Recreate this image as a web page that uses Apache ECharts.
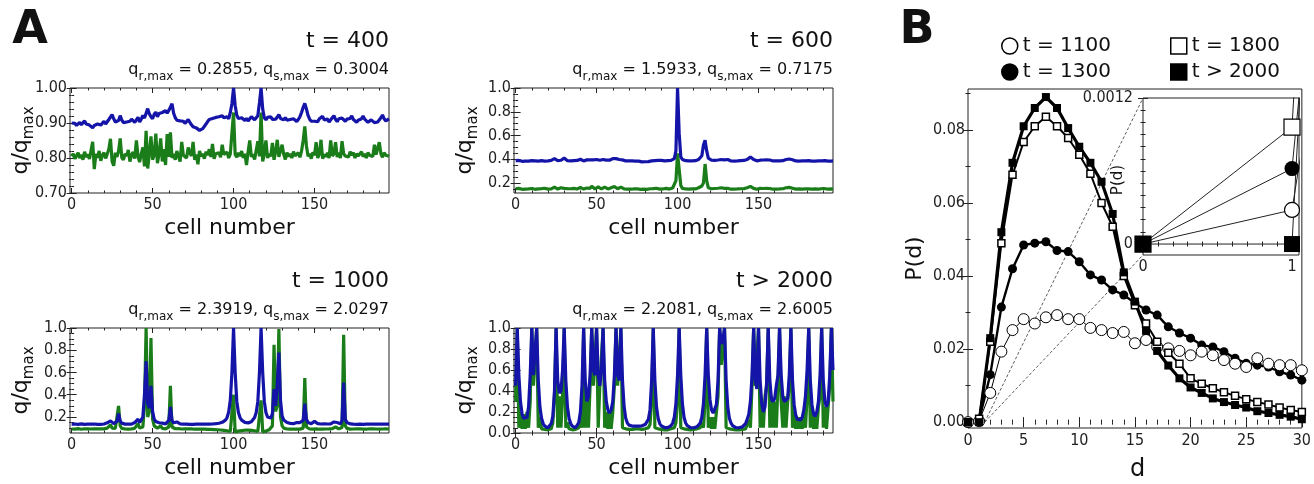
<!DOCTYPE html>
<html>
<head>
<meta charset="utf-8">
<script src="https://cdn.jsdelivr.net/npm/echarts@6/dist/echarts.min.js"></script>
<style>
html, body { margin: 0; padding: 0; background: #fff; }
#chart { width: 1314px; height: 484px; }
</style>
</head>
<body>
<div id="chart"></div>
<script>
var FONT = 'DejaVu Sans';
var TICKFONT = "'Liberation Sans Narrow', 'DejaVu Sans Condensed', 'Liberation Sans', sans-serif";
var INK = '#111';
var BLUE = '#1414a8';
var GREEN = '#1a7d1a';

// ---- panel A ----
var panelTitles = ['t = 400', 't = 600', 't = 1000', 't > 2000'];
var qrMax = ['0.2855', '1.5933', '2.3919', '2.2081'];
var qsMax = ['0.3004', '0.7175', '2.0297', '2.6005'];
var cellTicks = [0, 50, 100, 150];

// q/qmax for each cell (index = cell number)
var q400r = [
  .900,.896,.899,.893,.897,.902,.895,.899,.906,.897,
  .901,.894,.899,.886,.893,.889,.897,.902,.894,.899,
  .905,.897,.901,.910,.906,.924,.912,.903,.899,.907,
  .921,.908,.901,.897,.903,.899,.905,.911,.906,.902,
  .909,.916,.903,.911,.922,.914,.928,.941,.926,.918,
  .912,.925,.931,.918,.927,.922,.930,.926,.935,.928,
  .936,.945,.955,.928,.915,.908,.903,.906,.901,.905,
  .899,.904,.910,.902,.895,.889,.893,.886,.882,.879,
  .876,.884,.889,.897,.904,.910,.907,.913,.909,.916,
  .911,.918,.913,.921,.915,.910,.918,.912,.930,.955,
  1.000,.950,.922,.913,.908,.915,.911,.907,.913,.906,
  .912,.918,.915,.909,.913,.921,.958,1.000,.940,.915,
  .909,.916,.912,.918,.910,.914,.911,.917,.924,.913,
  .913,.909,.915,.908,.913,.910,.906,.912,.908,.904,
  .910,.918,.930,.945,.956,.940,.922,.911,.905,.910,
  .905,.910,.904,.912,.908,.919,.909,.905,.911,.903,
  .909,.914,.921,.910,.904,.912,.907,.914,.909,.905,
  .911,.907,.913,.920,.910,.905,.902,.908,.904,.912,
  .920,.911,.906,.902,.905,.909,.904,.901,.906,.903,
  .908,.915,.923,.912,.906,.909,.912
];
var q400s = [
  .805,.812,.798,.806,.815,.800,.809,.795,.818,.803,
  .810,.797,.822,.846,.768,.812,.801,.820,.792,.808,
  .815,.799,.811,.826,.855,.790,.778,.815,.803,.820,
  .856,.801,.795,.812,.806,.823,.790,.809,.817,.798,
  .850,.805,.788,.812,.830,.776,.878,.770,.815,.862,
  .795,.808,.870,.785,.812,.856,.790,.825,.780,.868,
  .803,.873,.800,.812,.795,.820,.805,.790,.846,.808,
  .812,.800,.830,.815,.806,.846,.795,.810,.782,.820,
  .805,.812,.798,.818,.808,.825,.803,.840,.798,.812,
  .808,.815,.802,.838,.810,.805,.817,.800,.812,.808,
  .930,.810,.802,.815,.806,.820,.800,.812,.780,.818,
  .850,.803,.810,.796,.822,.848,.805,.930,.790,.812,
  .850,.800,.812,.805,.843,.795,.818,.852,.803,.808,
  .838,.810,.796,.815,.805,.812,.800,.818,.806,.810,
  .815,.802,.820,.850,.890,.835,.805,.812,.798,.816,
  .808,.845,.800,.812,.852,.798,.810,.804,.815,.800,
  .850,.806,.812,.845,.803,.815,.800,.848,.812,.806,
  .810,.803,.818,.808,.815,.800,.812,.806,.810,.818,
  .804,.812,.800,.815,.808,.812,.804,.838,.810,.806,
  .845,.812,.802,.815,.808,.812,.805
];
var q600r = [
  .388,.385,.390,.386,.383,.387,.385,.389,.384,.386,
  .388,.384,.387,.390,.385,.383,.388,.386,.384,.389,
  .386,.385,.390,.395,.405,.395,.388,.386,.392,.400,
  .410,.398,.388,.385,.387,.384,.389,.386,.390,.392,
  .400,.392,.386,.388,.395,.402,.396,.410,.395,.388,
  .398,.402,.392,.386,.398,.403,.393,.388,.392,.398,
  .405,.418,.405,.392,.398,.404,.395,.388,.386,.390,
  .387,.384,.386,.383,.385,.381,.384,.380,.378,.382,
  .379,.376,.380,.383,.386,.384,.389,.386,.390,.387,
  .391,.388,.386,.392,.389,.387,.391,.395,.405,.470,
  1.000,.620,.420,.398,.392,.388,.390,.386,.389,.387,
  .391,.388,.393,.398,.400,.430,.520,.560,.470,.410,
  .395,.392,.388,.391,.389,.394,.392,.398,.404,.395,
  .410,.398,.390,.386,.388,.385,.389,.386,.384,.388,
  .386,.390,.392,.398,.408,.420,.412,.398,.390,.387,
  .389,.392,.398,.394,.388,.395,.402,.394,.388,.386,
  .389,.386,.390,.387,.385,.388,.392,.398,.395,.402,
  .408,.396,.389,.386,.388,.385,.389,.386,.390,.387,
  .395,.388,.386,.384,.387,.385,.388,.386,.384,.387,
  .385,.388,.386,.384,.387,.385,.386
];
var q600s = [
  .152,.148,.155,.150,.147,.153,.149,.156,.151,.148,
  .154,.150,.147,.155,.151,.149,.153,.148,.156,.150,
  .149,.153,.150,.158,.165,.152,.149,.155,.160,.168,
  .155,.150,.153,.149,.152,.148,.155,.151,.150,.154,
  .162,.152,.149,.156,.158,.165,.155,.172,.158,.150,
  .162,.168,.155,.150,.158,.165,.154,.150,.156,.160,
  .162,.170,.160,.152,.158,.166,.154,.150,.152,.148,
  .151,.149,.153,.150,.148,.152,.149,.147,.150,.148,
  .151,.147,.150,.152,.149,.153,.150,.156,.152,.149,
  .153,.150,.148,.155,.151,.149,.154,.158,.170,.220,
  .450,.440,.180,.155,.152,.150,.153,.149,.152,.150,
  .154,.150,.156,.160,.162,.175,.200,.360,.220,.160,
  .155,.152,.150,.154,.151,.156,.153,.160,.165,.155,
  .168,.156,.150,.148,.152,.149,.153,.150,.148,.152,
  .150,.153,.155,.160,.165,.172,.162,.155,.150,.148,
  .152,.155,.160,.154,.150,.156,.162,.154,.150,.148,
  .151,.149,.153,.150,.148,.152,.155,.160,.158,.163,
  .168,.156,.151,.149,.152,.150,.153,.149,.151,.150,
  .155,.151,.149,.148,.152,.150,.153,.149,.150,.152,
  .149,.152,.150,.148,.151,.150,.149
];
var q1000r = [
  .136,.134,.137,.135,.133,.136,.138,.135,.134,.137,
  .135,.133,.136,.134,.137,.135,.133,.136,.134,.135,
  .137,.140,.148,.158,.165,.150,.140,.145,.160,.230,
  .165,.145,.138,.136,.135,.137,.134,.136,.140,.150,
  .158,.180,.150,.148,.200,.400,.700,.320,.280,.480,
  .250,.180,.160,.150,.148,.160,.145,.140,.138,.145,
  .170,.290,.170,.148,.145,.155,.142,.138,.136,.135,
  .134,.136,.135,.133,.136,.134,.137,.135,.133,.136,
  .134,.136,.135,.137,.134,.136,.138,.137,.139,.140,
  .142,.144,.147,.152,.160,.172,.195,.245,.350,.600,
  1.000,.600,.340,.240,.195,.172,.160,.152,.148,.147,
  .150,.157,.170,.195,.240,.340,.600,1.000,.600,.340,
  .240,.200,.185,.190,.230,.450,.300,.500,.780,.350,
  .210,.172,.158,.150,.146,.143,.141,.140,.142,.150,
  .158,.150,.145,.170,.320,.180,.150,.142,.140,.148,
  .160,.145,.140,.138,.137,.136,.138,.135,.137,.136,
  .138,.145,.155,.165,.150,.140,.138,.170,.510,.180,
  .150,.142,.138,.136,.135,.137,.134,.136,.135,.137,
  .134,.136,.135,.133,.136,.134,.137,.135,.136,.134,
  .136,.135,.137,.134,.136,.135,.136
];
var q1000s = [
  .092,.094,.091,.093,.095,.092,.090,.093,.094,.091,
  .093,.095,.092,.090,.094,.092,.093,.091,.094,.092,
  .093,.095,.100,.105,.130,.100,.095,.098,.115,.300,
  .120,.098,.094,.092,.093,.091,.094,.092,.095,.100,
  .110,.140,.100,.095,.110,.300,1.000,.200,.250,.910,
  .180,.120,.105,.098,.100,.120,.098,.094,.093,.098,
  .110,.480,.110,.096,.094,.105,.095,.093,.092,.091,
  .093,.092,.094,.091,.093,.092,.090,.093,.091,.092,
  .091,.093,.090,.092,.089,.091,.088,.089,.087,.086,
  .085,.084,.083,.082,.080,.078,.076,.073,.070,.066,
  .400,.066,.070,.073,.076,.078,.080,.081,.082,.082,
  .081,.080,.078,.076,.073,.070,.066,.350,.066,.070,
  .074,.078,.085,.100,.120,.850,.250,.300,.990,.200,
  .120,.100,.094,.092,.090,.091,.092,.090,.093,.092,
  .094,.091,.093,.100,.550,.110,.095,.092,.093,.091,
  .100,.093,.092,.090,.093,.091,.094,.092,.090,.093,
  .092,.095,.100,.110,.098,.093,.092,.105,.940,.120,
  .098,.093,.091,.094,.092,.090,.093,.091,.094,.092,
  .091,.093,.090,.092,.094,.091,.093,.090,.092,.094,
  .091,.093,.092,.090,.093,.091,.092
];
var q2000r = [
  .45,1.0,.55,.30,.18,.14,.13,.15,.25,.55,
  1.0,.55,.55,1.0,.50,.25,.14,.09,.065,.055,
  .05,.06,.09,.16,.40,1.0,.50,.38,.40,.60,
  1.0,.50,.25,.14,.09,.065,.055,.05,.065,.10,
  .20,.45,1.0,.50,.30,.35,.55,1.0,.60,.55,
  1.0,.55,.45,.60,1.0,.50,.30,.22,.19,.22,
  .30,.55,1.0,.55,.50,1.0,.50,.25,.14,.095,
  .075,.068,.066,.065,.065,.064,.065,.066,.068,.072,
  .08,.095,.13,.22,.50,1.0,.50,.25,.14,.09,
  .068,.058,.052,.05,.052,.058,.07,.095,.15,.28,
  .55,1.0,.55,.28,.15,.095,.07,.058,.052,.05,
  .05,.052,.06,.072,.095,.15,.28,.55,1.0,.55,
  .32,.22,.19,.20,.27,.50,1.0,.85,.88,1.0,
  .50,.25,.14,.095,.07,.058,.052,.05,.05,.052,
  .058,.07,.09,.13,.18,.30,.55,1.0,.50,.42,
  1.0,.50,.28,.20,.25,.48,1.0,.50,.32,.30,
  .33,.45,.55,1.0,.55,.35,.30,.30,.33,.55,
  1.0,.50,.27,.17,.13,.12,.125,.15,.22,.35,
  .60,1.0,.50,.27,.18,.16,.20,.30,.55,1.0,
  .50,.30,.25,.30,.55,1.0,.60
];
var q2000s = [
  .30,1.0,.05,.20,.04,.18,.04,.20,.05,.30,
  1.0,.45,.45,1.0,.05,.15,.04,.035,.035,.03,
  .03,.035,.04,.10,.35,1.0,.05,.35,.05,.35,
  1.0,.05,.10,.04,.035,.03,.03,.035,.04,.05,
  .15,.05,1.0,.05,.30,.05,.45,1.0,.45,.45,
  1.0,.05,.45,.45,1.0,.05,.20,.04,.20,.04,
  .20,.45,1.0,.45,.45,1.0,.05,.04,.04,.035,
  .035,.035,.035,.04,.04,.04,.04,.035,.035,.035,
  .04,.04,.05,.08,.30,1.0,.05,.04,.04,.035,
  .035,.03,.03,.03,.03,.035,.04,.04,.05,.10,
  .30,1.0,.05,.04,.04,.035,.035,.03,.03,.03,
  .035,.035,.04,.04,.05,.10,.05,.30,1.0,.05,
  .15,.04,.15,.04,.20,.35,1.0,.65,.65,1.0,
  .05,.04,.04,.035,.035,.03,.03,.03,.03,.035,
  .035,.04,.04,.05,.12,.05,.45,1.0,.45,.45,
  1.0,.05,.30,.05,.35,.45,1.0,.05,.35,.05,
  .30,.05,.45,1.0,.30,.05,.35,.05,.30,.45,
  1.0,.05,.20,.04,.15,.04,.15,.04,.20,.05,
  .35,1.0,.05,.25,.04,.20,.04,.25,.35,1.0,
  .05,.25,.04,.25,.45,1.0,.30
];

// ---- panel B ----
var legendNames = ['t = 1100', 't = 1300', 't = 1800', 't > 2000'];
var dValues = [0,1,2,3,4,5,6,7,8,9,10,11,12,13,14,15,16,17,18,19,20,21,22,23,24,25,26,27,28,29,30];
var pT1100 = [0,0.00028,0.008,0.0193,0.0252,0.0282,0.027,0.0287,0.0293,0.0282,0.0282,0.0258,0.0252,0.0244,0.0247,0.0216,
  0.0225,0.0206,0.0202,0.0195,0.0183,0.0193,0.0183,0.017,0.016,0.0151,0.0175,0.016,0.0156,0.0156,0.0142];
var pT1300 = [0,0.00062,0.013,0.0315,0.042,0.0485,0.049,0.0494,0.047,0.0467,0.0439,0.0403,0.0389,0.0362,0.0348,0.0326,
  0.0307,0.0293,0.0261,0.0244,0.023,0.0211,0.0206,0.0193,0.0175,0.0161,0.0156,0.0151,0.0138,0.0129,0.0115];
var pT1800 = [0,0.00096,0.022,0.049,0.0677,0.0767,0.081,0.0836,0.081,0.0778,0.0732,0.068,0.060,0.0535,0.040,0.032,
  0.027,0.022,0.019,0.016,0.012,0.0105,0.0093,0.0082,0.0072,0.0063,0.0055,0.0048,0.004,0.0033,0.0028];
var pT2000 = [0,0,0.023,0.052,0.071,0.081,0.086,0.089,0.086,0.0805,0.0754,0.071,0.0658,0.057,0.041,0.033,
  0.025,0.0195,0.0155,0.012,0.0095,0.008,0.0065,0.0055,0.0047,0.004,0.003,0.0025,0.002,0.0015,0.0008];
var dTicks = [0, 5, 10, 15, 20, 25, 30];
var pTicks = [0, 0.02, 0.04, 0.06, 0.08];
var insetDTicks = [0, 1];
var insetPTicks = [0, 0.0012];

var chart = echarts.init(document.getElementById('chart'));

function stepValues(min, max, step) {
  var out = [];
  for (var k = Math.ceil(min / step - 1e-9); k * step <= max + 1e-9; k++) {
    out.push(+(k * step).toFixed(6));
  }
  return out;
}

var grids = [], xAxes = [], yAxes = [];

function tickAxis(g, pos, min, max, values, len, label) {
  return {
    type: 'value', gridIndex: g, position: pos, min: min, max: max,
    axisLine: { show: false }, splitLine: { show: false },
    axisTick: { show: true, inside: true, length: len, customValues: values,
      lineStyle: { color: '#222', width: 1 } },
    axisLabel: label ? { show: true, customValues: values, formatter: label.fmt, margin: label.margin,
      fontFamily: TICKFONT, fontSize: 16, color: '#222' } : { show: false }
  };
}

// a framed plot with ticks on all four sides, labels bottom/left
function addFrame(box, xr, yr) {
  var g = grids.length;
  grids.push({ left: box.left, top: box.top, width: box.width, height: box.height, show: true,
    borderColor: '#222', borderWidth: 1, backgroundColor: '#fff' });
  var xMinor = stepValues(xr.min, xr.max, xr.minor);
  var yMinor = stepValues(yr.min, yr.max, yr.minor);
  xAxes.push(tickAxis(g, 'bottom', xr.min, xr.max, xr.major, 5, xr.label));
  xAxes.push(tickAxis(g, 'bottom', xr.min, xr.max, xMinor, 2.5, null));
  xAxes.push(tickAxis(g, 'top', xr.min, xr.max, xr.major, 5, null));
  xAxes.push(tickAxis(g, 'top', xr.min, xr.max, xMinor, 2.5, null));
  yAxes.push(tickAxis(g, 'left', yr.min, yr.max, yr.major, 5, yr.label));
  yAxes.push(tickAxis(g, 'left', yr.min, yr.max, yMinor, 2.5, null));
  yAxes.push(tickAxis(g, 'right', yr.min, yr.max, yr.major, 5, null));
  yAxes.push(tickAxis(g, 'right', yr.min, yr.max, yMinor, 2.5, null));
  return 4 * g;
}

var panelsA = [
  { box: { left: 70, top: 88, width: 319, height: 105 }, yMin: 0.70, yMax: 1.0,
    yTicks: [0.70, 0.80, 0.90, 1.00], yDec: 2, yMinor: 0.02, r: q400r, s: q400s },
  { box: { left: 514, top: 88, width: 319, height: 105 }, yMin: 0.116, yMax: 1.0,
    yTicks: [0.2, 0.4, 0.6, 0.8, 1.0], yDec: 1, yMinor: 0.05, r: q600r, s: q600s },
  { box: { left: 70, top: 328, width: 319, height: 105 }, yMin: 0.056, yMax: 1.0,
    yTicks: [0.2, 0.4, 0.6, 0.8, 1.0], yDec: 1, yMinor: 0.05, r: q1000r, s: q1000s },
  { box: { left: 514, top: 328, width: 319, height: 105 }, yMin: 0, yMax: 1.0,
    yTicks: [0, 0.2, 0.4, 0.6, 0.8, 1.0], yDec: 1, yMinor: 0.05, r: q2000r, s: q2000s }
];

var series = [];
var graphics = [];

function toPairs(arr) {
  return arr.map(function (v, i) { return [i, v]; });
}

function richText(x, y, text, size, subSize, align, rotation) {
  return {
    type: 'text', x: x, y: y, rotation: rotation || 0, silent: true,
    style: {
      text: text, align: align, verticalAlign: 'middle', fill: INK,
      rich: {
        m: { fontFamily: FONT, fontSize: size, lineHeight: size + 4, verticalAlign: 'top', color: INK },
        s: { fontFamily: FONT, fontSize: subSize, lineHeight: subSize + 1,
             padding: [Math.round(size * 0.55), 0, 0, 0], verticalAlign: 'top', color: INK }
      }
    }
  };
}

function plainText(x, y, text, size, weight, align, rotation) {
  return {
    type: 'text', x: x, y: y, rotation: rotation || 0, silent: true,
    style: { text: text, fontFamily: FONT, fontSize: size, fontWeight: weight || 'normal',
      fill: INK, align: align || 'center', verticalAlign: 'middle' }
  };
}

panelsA.forEach(function (p, i) {
  var dec = p.yDec;
  var idx = addFrame(p.box,
    { min: -1, max: 196, major: cellTicks, minor: 10, label: { fmt: function (v) { return String(v); }, margin: 4 } },
    { min: p.yMin, max: p.yMax, major: p.yTicks, minor: p.yMinor,
      label: { fmt: function (v) { return v.toFixed(dec); }, margin: 3 } });
  series.push({ type: 'line', name: 'qs ' + panelTitles[i], xAxisIndex: idx, yAxisIndex: idx,
    data: toPairs(p.s), showSymbol: false, symbol: 'none', clip: true,
    lineStyle: { color: GREEN, width: 3.2 }, itemStyle: { color: GREEN }, z: 2 });
  series.push({ type: 'line', name: 'qr ' + panelTitles[i], xAxisIndex: idx, yAxisIndex: idx,
    data: toPairs(p.r), showSymbol: false, symbol: 'none', clip: true,
    lineStyle: { color: BLUE, width: 3.2 }, itemStyle: { color: BLUE }, z: 3 });

  var right = p.box.left + p.box.width;
  var top = p.box.top;
  graphics.push(plainText(right, top - 47, panelTitles[i], 22, 'normal', 'right'));
  graphics.push(richText(right, top - 16,
    '{m|q}{s|r,max}{m| = ' + qrMax[i] + ', q}{s|s,max}{m| = ' + qsMax[i] + '}', 16, 12, 'right'));
  graphics.push(richText(p.box.left - 47, top + p.box.height / 2, '{m|q/q}{s|max}', 22, 15, 'center', Math.PI / 2));
  graphics.push(plainText(p.box.left + p.box.width / 2, top + p.box.height + 35, 'cell number', 22));
});

// panel B main plot and inset
var mainBox = { left: 968, top: 89, width: 339, height: 339 };
var mainD = [0, 30], mainP = [-0.0016, 0.0912];
var insetBox = { left: 1143, top: 98, width: 156, height: 157 };
var insetD = [0, 1.047], insetP = [-0.00009, 0.0012];

var mainIdx = addFrame(mainBox,
  { min: mainD[0], max: mainD[1], major: dTicks, minor: 1, label: { fmt: function (v) { return String(v); }, margin: 5 } },
  { min: mainP[0], max: mainP[1], major: pTicks, minor: 0.01, label: { fmt: function (v) { return v.toFixed(2); }, margin: 3 } });
var insetIdx = addFrame(insetBox,
  { min: insetD[0], max: insetD[1], major: insetDTicks, minor: 0.1, label: { fmt: function (v) { return String(v); }, margin: 4 } },
  { min: insetP[0], max: insetP[1], major: insetPTicks, minor: 0.0001,
    label: { fmt: function (v) { return v === 0 ? '0' : v.toFixed(4); }, margin: 10 } });

var bSeries = {
  t1100: { name: legendNames[0], data: pT1100, symbol: 'circle', size: 11, inset: 15, fill: '#fff', border: 1, width: 1 },
  t1300: { name: legendNames[1], data: pT1300, symbol: 'circle', size: 9, inset: 15, fill: '#000', border: 0, width: 2.4 },
  t1800: { name: legendNames[2], data: pT1800, symbol: 'rect', size: 7, inset: 16, fill: '#fff', border: 1.5, width: 2 },
  t2000: { name: legendNames[3], data: pT2000, symbol: 'rect', size: 8, inset: 16, fill: '#000', border: 0, width: 3.2 }
};
var mainOrder = ['t1300', 't1100', 't1800', 't2000'];
var insetOrder = ['t1800', 't1300', 't1100', 't2000'];

mainOrder.forEach(function (k) {
  var b = bSeries[k];
  series.push({
    type: 'line', name: b.name, xAxisIndex: mainIdx, yAxisIndex: mainIdx,
    data: dValues.map(function (d, i) { return [d, b.data[i]]; }),
    symbol: b.symbol, symbolSize: b.size, showSymbol: true, showAllSymbol: true, clip: true,
    lineStyle: { color: '#000', width: b.width },
    itemStyle: { color: b.fill, borderColor: '#000', borderWidth: b.border }, z: 3
  });
});
// inset: same data, first points only
insetOrder.forEach(function (k) {
  var b = bSeries[k];
  series.push({
    type: 'line', name: b.name, xAxisIndex: insetIdx, yAxisIndex: insetIdx,
    data: dValues.slice(0, 3).map(function (d, i) { return [d, b.data[i]]; }),
    symbol: b.symbol, symbolSize: b.inset, showSymbol: true, showAllSymbol: true, clip: true,
    lineStyle: { color: '#222', width: 1 },
    itemStyle: { color: b.fill, borderColor: '#000', borderWidth: b.border ? 1.2 : 0 }, z: 4
  });
});

graphics.push(plainText(30, 31, 'A', 46, 'bold'));
graphics.push(plainText(917, 31, 'B', 46, 'bold'));
graphics.push(plainText(915, mainBox.top + mainBox.height / 2, 'P(d)', 22, 'normal', 'center', Math.PI / 2));
graphics.push(plainText(mainBox.left + mainBox.width / 2, 470, 'd', 24));
graphics.push(plainText(1118, 180, 'P(d)', 15, 'normal', 'center', Math.PI / 2));

var legendCommon = {
  orient: 'vertical', itemWidth: 16, itemHeight: 16, itemGap: 6, selectedMode: false,
  textStyle: { fontFamily: FONT, fontSize: 20, color: INK, lineHeight: 20 },
  itemStyle: { borderWidth: 1.5 }
};

chart.setOption({
  animation: false,
  backgroundColor: '#fff',
  grid: grids,
  xAxis: xAxes,
  yAxis: yAxes,
  legend: [
    Object.assign({ left: 996, top: 31, data: [{ name: legendNames[0], icon: 'circle' }, { name: legendNames[1], icon: 'circle' }] }, legendCommon),
    Object.assign({ left: 1165, top: 31, data: [{ name: legendNames[2], icon: 'rect' }, { name: legendNames[3], icon: 'rect' }] }, legendCommon)
  ],
  series: series
});

// dashed connectors from the zoomed corner of the main plot to the inset
var from = chart.convertToPixel({ xAxisIndex: mainIdx, yAxisIndex: mainIdx }, [1.5, 0]);
var toTop = chart.convertToPixel({ xAxisIndex: insetIdx, yAxisIndex: insetIdx }, [insetD[0], insetP[1]]);
var toBot = chart.convertToPixel({ xAxisIndex: insetIdx, yAxisIndex: insetIdx }, [insetD[0], insetP[0]]);
[toTop, toBot].forEach(function (to) {
  graphics.push({
    type: 'line', silent: true, z: 1,
    shape: { x1: from[0], y1: from[1], x2: to[0], y2: to[1] },
    style: { stroke: '#333', lineWidth: 0.8, lineDash: [3, 2] }
  });
});

chart.setOption({ graphic: graphics });
</script>
</body>
</html>
